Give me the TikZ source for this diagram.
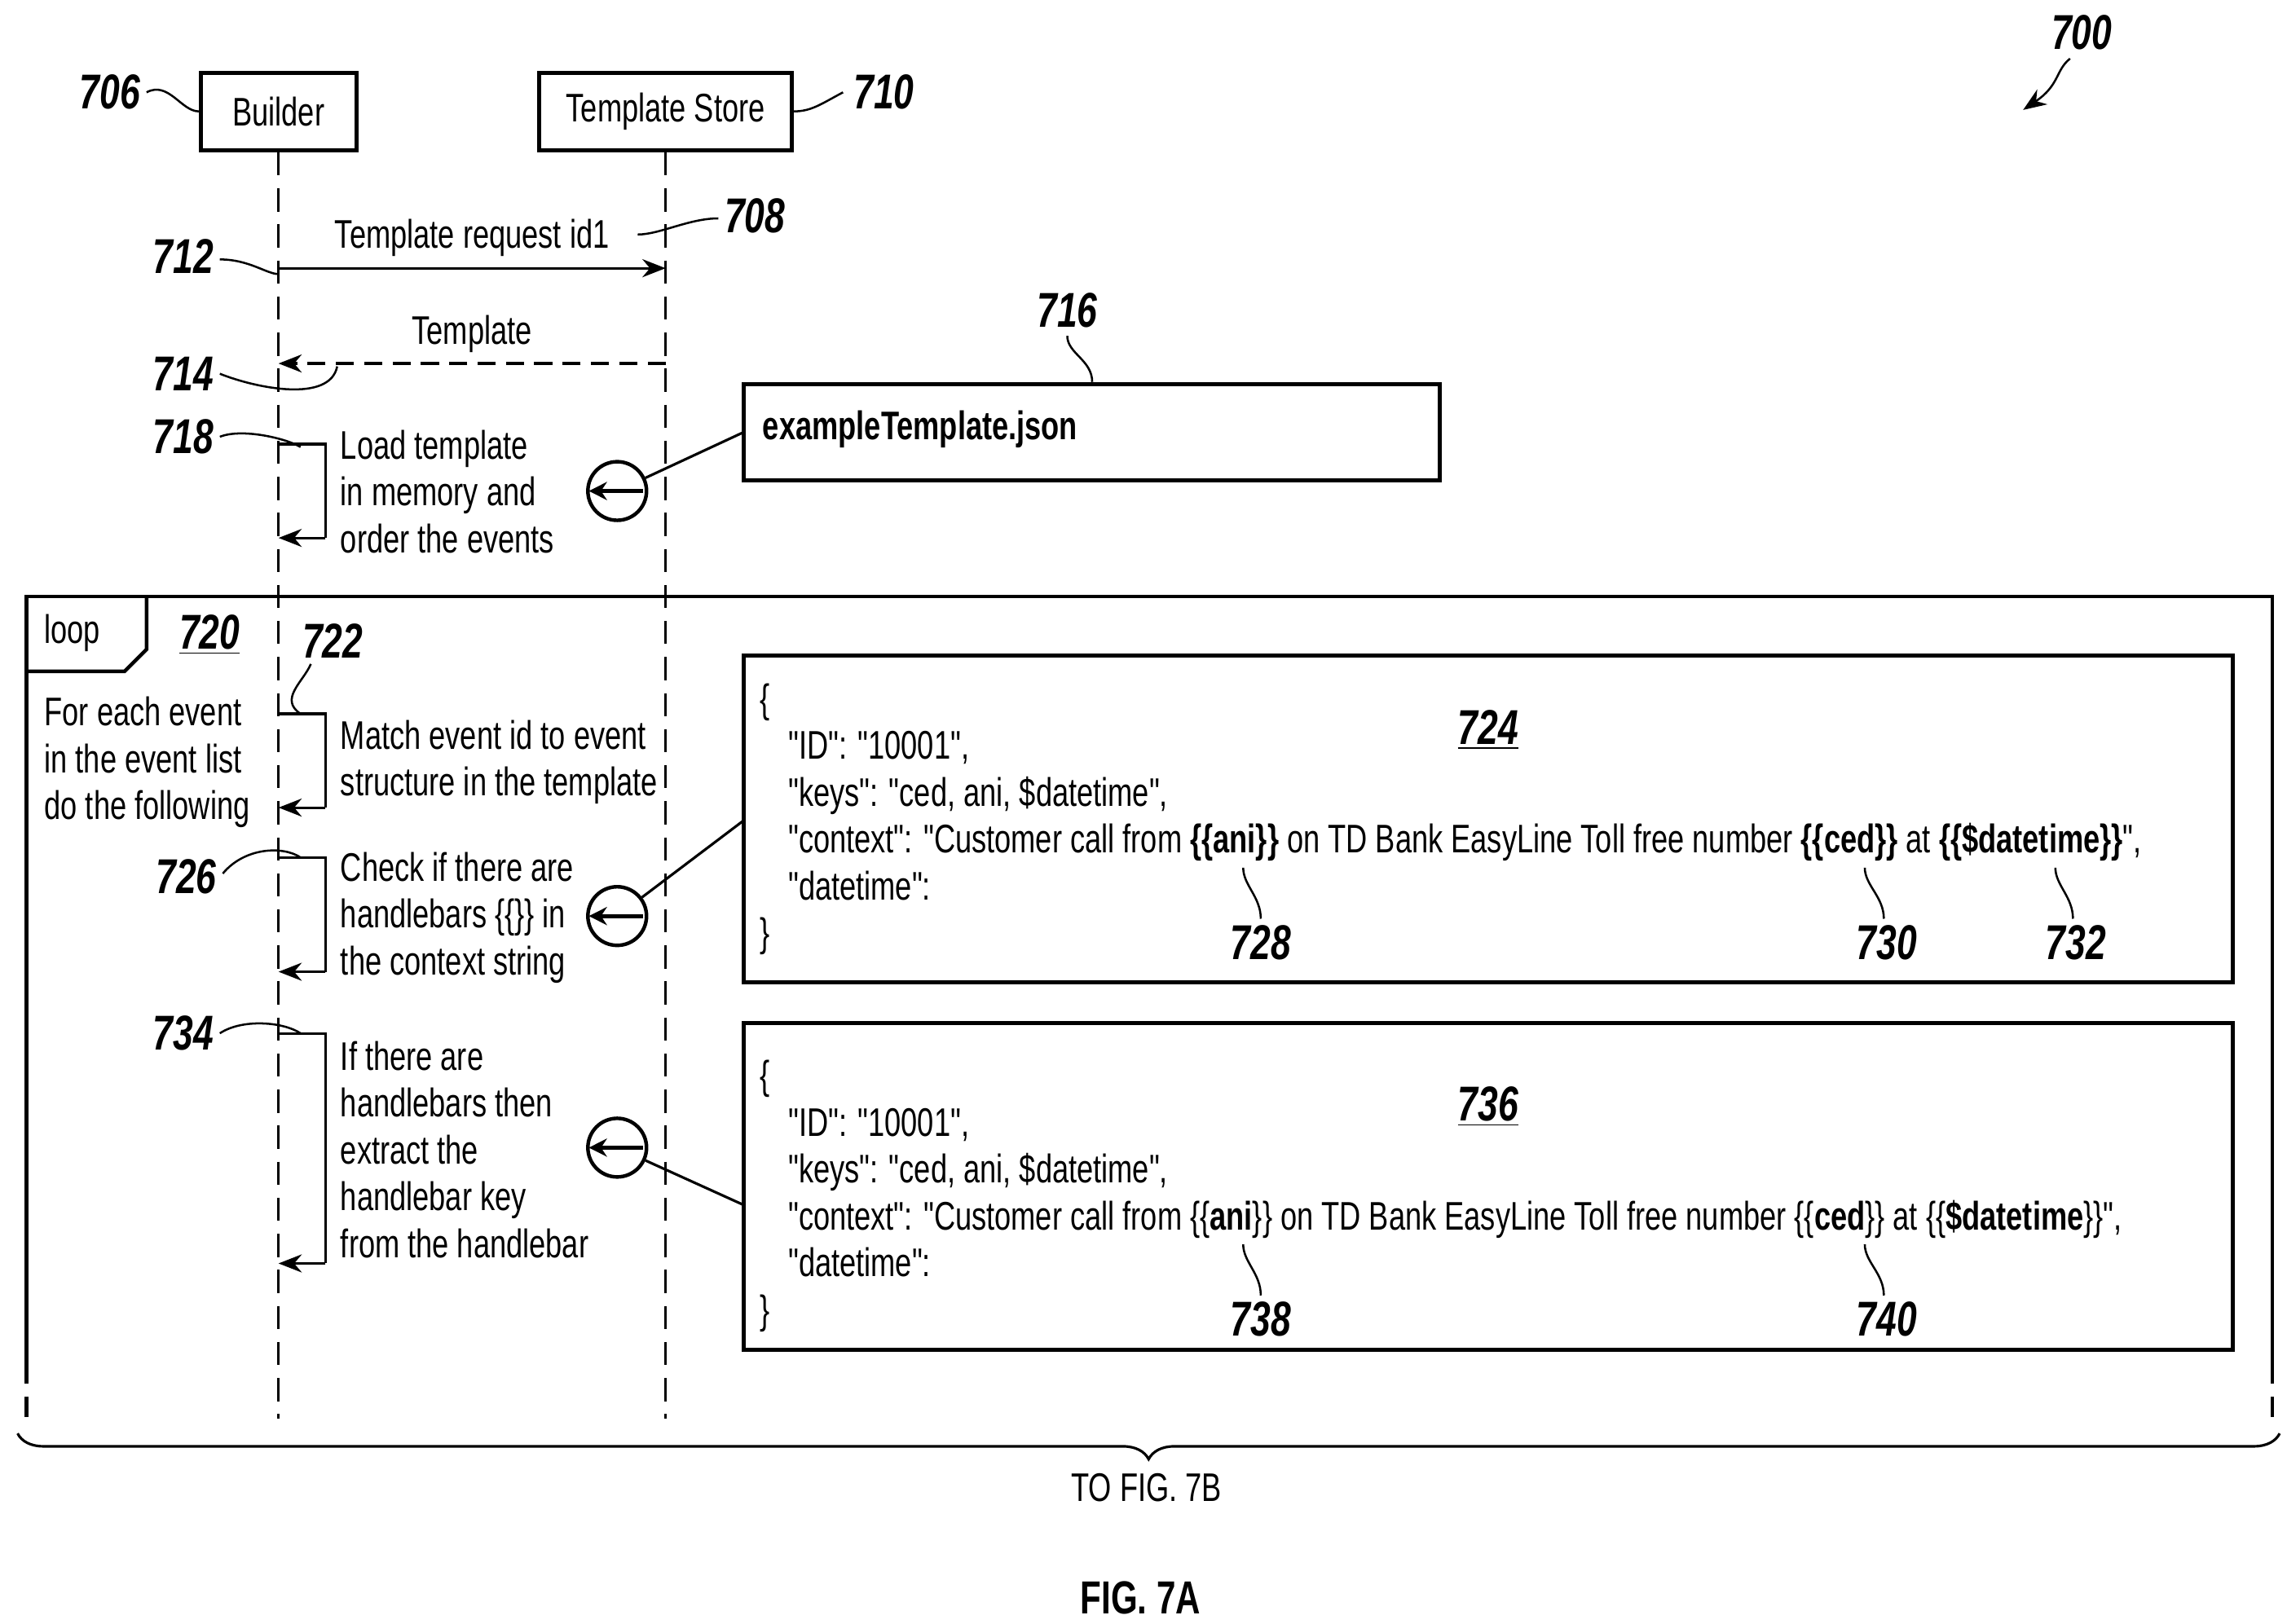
\documentclass[tikz,border=0pt]{standalone}
\usepackage{fontspec}
\setmainfont{Liberation Sans}[FakeStretch=0.74,Ligatures=TeXOff]
\usetikzlibrary{arrows.meta,decorations.pathreplacing}
\newcommand{\qq}{"}
\begin{document}
\begin{tikzpicture}[x=0.02cm,y=-0.02cm,
  every node/.style={font=\fontsize{15.5}{18.2}\selectfont,inner sep=0pt},
  box/.style={draw,line width=1.6pt},
  life/.style={dash pattern=on 9pt off 5pt,line width=0.8pt},
  msg/.style={line width=1pt,-{Stealth[length=9pt,width=7pt]}},
  ref/.style={font=\fontsize{19}{22}\selectfont\bfseries\itshape},
  lead/.style={line width=0.8pt},
  circ/.style={draw,circle,line width=1.4pt,minimum size=0.8cm},
  carr/.style={line width=1.6pt,-{Stealth[length=7pt,width=7pt]}},
  lt/.style={align=left,anchor=north west}]
\useasboundingbox (0,0) rectangle (1560,1108);
% lifeline heads
\node[box,minimum width=2.12cm,minimum height=1.06cm] (b) at (190,76) {Builder};
\node[box,minimum width=3.44cm,minimum height=1.06cm] (ts) at (454,76) {Template Store};
\coordinate (bl) at (190,968); \coordinate (tl) at (454,968);
\draw[life] (b.south) -- (bl);
\draw[life] (ts.south) -- (tl);
% refs top
\node[ref] (r706) at (75,63) {706};
\draw[lead] (r706.east) ++(4,0) .. controls +(15,-8) and +(-12,0) .. (b.west);
\node[ref] (r710) at (603,63) {710};
\draw[lead] (ts.east) .. controls +(12,0) and +(-15,8) .. ([xshift=-4]r710.west);
\node[ref] (r700) at (1420,22) {700};
\coordinate (a700) at (1380,75);
\draw[lead,-{Stealth[length=9pt,width=7pt]}] (1412,40) .. controls (1402,48) and (1405,58) .. (a700);
% message 1
\coordinate (m1a) at (190,183); \coordinate (m1b) at (454,183);
\draw[msg] (m1a) -- (m1b);
\node at (322,162) {Template request id1};
\node[ref] (r708) at (515,147) {708};
\draw[lead] (r708.west) ++(-4,2) .. controls +(-20,0) and +(15,0) .. (435,160);
\node[ref] (r712) at (125,175) {712};
\draw[lead] (r712.east) ++(4,2) .. controls +(20,0) and +(-8,0) .. (190,187);
% message 2
\coordinate (m2a) at (454,248); \coordinate (m2b) at (190,248);
\draw[msg,dash pattern=on 7pt off 4pt] (m2a) -- (m2b);
\node at (322,228) {Template};
\node[ref] (r714) at (125,255) {714};
\draw[lead] (r714.east) ++(4,0) .. controls +(25,10) and +(-5,25) .. (230,250);
% self call 718
\draw[line width=1pt] (190,303) -- (222,303) -- (222,367);
\draw[msg] (222,367) -- (190,367);
\node[lt] at (232,293) {Load template\\in memory and\\order the events};
\node[ref] (r718) at (125,298) {718};
\draw[lead] (r718.east) ++(4,0) .. controls +(15,-6) and +(-10,-6) .. (205,305);
% 716 box
\node[box,minimum width=9.5cm,minimum height=1.32cm] (jt) at (744.5,295) {};
\node[anchor=west,font=\fontsize{15.5}{18}\selectfont\bfseries] at (520,293) {exampleTemplate.json};
\node[ref] (r716) at (728,212) {716};
\draw[lead] (r716.south) ++(0,5) .. controls +(0,12) and +(0,-15) .. (jt.north -| 745,0);
\node[circ] (c1) at (421,335) {};
\draw[carr] ([xshift=10]c1.center) -- ([xshift=-11]c1.center);
\draw[line width=1pt] (c1) -- (507,295);
% loop frame
\draw[line width=1.4pt] (18,930) -- (18,407) -- (1550,407) -- (1550,930);
\draw[line width=1.4pt,dash pattern=on 8pt off 5pt] (18,930) -- (18,968);
\draw[line width=1.4pt,dash pattern=on 8pt off 5pt] (1550,930) -- (1550,968);
\draw[line width=1.4pt] (18,458) -- (85,458) -- (100,443) -- (100,407);
\node[anchor=west] at (30,432) {loop};
\node[ref,anchor=center] (r720) at (143,433) {\underline{720}};
\node[lt] at (30,475) {For each event\\in the event list\\do the following};
% 722
\draw[line width=1pt] (190,487) -- (222,487) -- (222,551);
\draw[msg] (222,551) -- (190,551);
\node[lt] at (232,491) {Match event id to event\\structure in the template};
\node[ref] (r722) at (227,437) {722};
\draw[lead] (r722.south west) ++(6,4) .. controls +(-5,12) and +(-15,-10) .. (205,487);
% 726
\draw[line width=1pt] (190,585) -- (222,585) -- (222,663);
\draw[msg] (222,663) -- (190,663);
\node[lt] at (232,581) {Check if there are\\handlebars \{\{\}\} in\\the context string};
\node[ref] (r726) at (127,598) {726};
\draw[lead] (r726.east) ++(4,-2) .. controls +(15,-18) and +(-12,-8) .. (205,585);
\node[circ] (c2) at (421,625) {};
\draw[carr] ([xshift=10]c2.center) -- ([xshift=-11]c2.center);
\draw[line width=1pt] (c2) -- (507,560);
% 734
\draw[line width=1pt] (190,705) -- (222,705) -- (222,862);
\draw[msg] (222,862) -- (190,862);
\node[lt] at (232,710) {If there are\\handlebars then\\extract the\\handlebar key\\from the handlebar};
\node[ref] (r734) at (125,705) {734};
\draw[lead] (r734.east) ++(4,0) .. controls +(15,-10) and +(-12,-8) .. (205,705);
\node[circ] (c3) at (421,783) {};
\draw[carr] ([xshift=10]c3.center) -- ([xshift=-11]c3.center);
\draw[line width=1pt] (c3) -- (507,822);
% box 724
\node[box,minimum width=20.32cm,minimum height=4.46cm] (bx1) at (1015,558.5) {};
\node[lt] at (518,466) {\{\\\hspace*{11pt}\qq ID\qq: \qq 10001\qq,\\\hspace*{11pt}\qq keys\qq: \qq ced, ani, \$datetime\qq,\\\hspace*{11pt}\qq context\qq: \qq Customer call from \textbf{\{\{ani\}\}} on TD Bank EasyLine Toll free number \textbf{\{\{ced\}\}} at \textbf{\{\{\$datetime\}\}}\qq,\\\hspace*{11pt}\qq datetime\qq:\\\}};
\node[ref] at (1015,498) {\underline{724}};
\node[ref] (r728) at (860,643) {728};
\node[ref] (r730) at (1287,643) {730};
\node[ref] (r732) at (1416,643) {732};
\draw[lead] (r728.north) ++(0,-4) .. controls +(0,-15) and +(0,12) .. (848,592);
\draw[lead] (r730.north) ++(-2,-4) .. controls +(0,-15) and +(0,12) .. (1272,592);
\draw[lead] (r732.north) ++(-2,-4) .. controls +(0,-15) and +(0,12) .. (1402,592);
% box 736
\node[box,minimum width=20.32cm,minimum height=4.46cm] (bx2) at (1015,809.5) {};
\node[lt] at (518,723) {\{\\\hspace*{11pt}\qq ID\qq: \qq 10001\qq,\\\hspace*{11pt}\qq keys\qq: \qq ced, ani, \$datetime\qq,\\\hspace*{11pt}\qq context\qq: \qq Customer call from \{\{\textbf{ani}\}\} on TD Bank EasyLine Toll free number \{\{\textbf{ced}\}\} at \{\{\textbf{\$datetime}\}\}\qq,\\\hspace*{11pt}\qq datetime\qq:\\\}};
\node[ref] at (1015,755) {\underline{736}};
\node[ref] (r738) at (860,900) {738};
\node[ref] (r740) at (1287,900) {740};
\draw[lead] (r738.north) ++(0,-4) .. controls +(0,-15) and +(0,12) .. (848,849);
\draw[lead] (r740.north) ++(-2,-4) .. controls +(0,-15) and +(0,12) .. (1272,849);
% brace
\coordinate (br1) at (12,978); \coordinate (br2) at (1555,978);
\draw[line width=1pt,decorate,decoration={brace,mirror,amplitude=10pt}] (br1) -- (br2);
\node (tofig) at (782,1015) {TO FIG. 7B};
\node[font=\fontsize{18}{22}\selectfont\bfseries] (fig) at (778,1090) {FIG. 7A};
\end{tikzpicture}
\end{document}
